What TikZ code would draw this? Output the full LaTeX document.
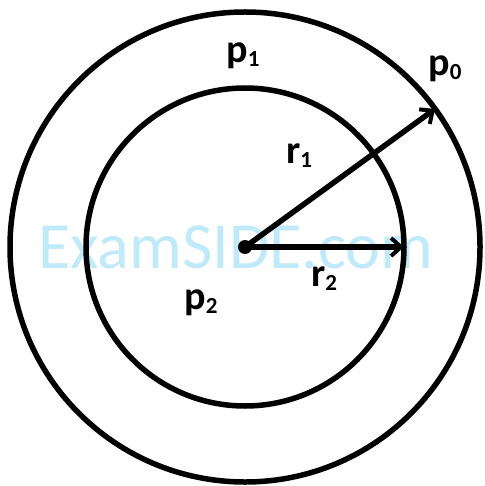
\documentclass[tikz,border=0pt]{standalone}
\usepackage{fontspec}
\setmainfont{Carlito}
\usetikzlibrary{arrows.meta}
\definecolor{wm}{RGB}{190,234,250}
\tikzset{
  ring/.style={draw=black,line width=5.5pt},
  radius arrow/.style={line width=5.5pt,-{Straight Barb[length=10pt,width=18pt,line width=4pt]}},
  lab/.style={inner sep=0pt,font=\bfseries\fontsize{40}{40}\selectfont},
}
\newcommand{\subs}[1]{\raisebox{-4pt}{\fontsize{23}{23}\selectfont\bfseries #1}}
\begin{document}
\begin{tikzpicture}[x=1pt,y=-1pt]
\useasboundingbox (0,0) rectangle (484,486);
\node[inner sep=0pt,anchor=base west,text=wm,font=\fontsize{66}{66}\selectfont] (wmark) at (38,268) {ExamSIDE.com};
\coordinate (c) at (245,247);
\draw[ring] (c) circle[radius=235];
\draw[ring] (c) circle[radius=159];
\coordinate (t1) at (435,109);
\coordinate (t2) at (404,247);
\draw[radius arrow] (c) -- (t1);
\draw[radius arrow] (c) -- (t2);
\fill (c) circle[radius=7];
\node[lab] (p1) at (243,56) {p\subs{1}};
\node[lab] (p0) at (445,69) {p\subs{0}};
\node[lab] (r1) at (299,156) {r\subs{1}};
\node[lab] (r2) at (324,279) {r\subs{2}};
\node[lab] (p2) at (201,303) {p\subs{2}};
\end{tikzpicture}
\end{document}
